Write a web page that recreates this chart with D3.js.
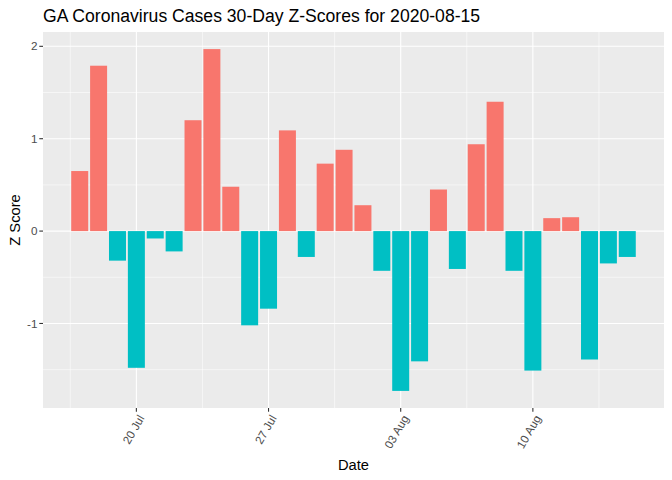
<!DOCTYPE html>
<html>
<head>
<meta charset="utf-8">
<script src="https://cdn.jsdelivr.net/npm/d3@7"></script>
<style>
  body { margin: 0; background: #fff; }
  text { font-family: "Liberation Sans", Arial, sans-serif; }
</style>
</head>
<body>
<div id="chart"></div>
<script>
/* data: one z-score per day, 17 Jul to 15 Aug 2020 */
const dates = ["2020-07-17", "2020-07-18", "2020-07-19", "2020-07-20", "2020-07-21", "2020-07-22",
               "2020-07-23", "2020-07-24", "2020-07-25", "2020-07-26", "2020-07-27", "2020-07-28",
               "2020-07-29", "2020-07-30", "2020-07-31", "2020-08-01", "2020-08-02", "2020-08-03",
               "2020-08-04", "2020-08-05", "2020-08-06", "2020-08-07", "2020-08-08", "2020-08-09",
               "2020-08-10", "2020-08-11", "2020-08-12", "2020-08-13", "2020-08-14", "2020-08-15"];
const zScores = [0.65, 1.79, -0.32, -1.48, -0.08, -0.22, 1.20, 1.97, 0.48, -1.02, -0.84, 1.09,
                 -0.28, 0.73, 0.88, 0.28, -0.43, -1.73, -1.41, 0.45, -0.41, 0.94, 1.40, -0.43,
                 -1.51, 0.14, 0.15, -1.39, -0.35, -0.28];
const xTicks = ["2020-07-20", "2020-07-27", "2020-08-03", "2020-08-10"];
const yTicks = [-1, 0, 1, 2];

const W = 672, H = 480;
const margin = { top: 32, right: 8, bottom: 72, left: 43 };
const pw = W - margin.left - margin.right,
      ph = H - margin.top - margin.bottom;

const parse = d3.utcParse("%Y-%m-%d");
const day = 864e5;
const data = dates.map((d, i) => ({ date: parse(d), z: zScores[i] }));

const svg = d3.select("#chart").append("svg")
    .attr("width", W).attr("height", H);

/* ggplot style 5% expansion on both scales */
const xMin = +data[0].date - 0.45 * day, xMax = +data[data.length - 1].date + 0.45 * day;
const xPad = (xMax - xMin) * 0.05;
const x = d3.scaleUtc().domain([xMin - xPad, xMax + xPad]).range([0, pw]);

const yMin = d3.min(zScores), yMax = d3.max(zScores);
const yPad = (yMax - yMin) * 0.05;
const y = d3.scaleLinear().domain([yMin - yPad, yMax + yPad]).range([ph, 0]);

const g = svg.append("g").attr("transform", `translate(${margin.left},${margin.top})`);

// panel background
g.append("rect").attr("width", pw).attr("height", ph).attr("fill", "#EBEBEB");

// minor grid
const xMajor = xTicks.map(parse);
const xMinor = [];
for (let i = -1; i < xMajor.length; i++) {
    const t = i < 0 ? +xMajor[0] - 3.5 * day : +xMajor[i] + 3.5 * day;
    if (x(t) >= 0 && x(t) <= pw) xMinor.push(t);
}
const yMinor = [-1.5, -0.5, 0.5, 1.5].filter(v => y(v) >= 0 && y(v) <= ph);

g.selectAll(".xminor").data(xMinor).enter().append("line")
    .attr("x1", d => x(d)).attr("x2", d => x(d)).attr("y1", 0).attr("y2", ph)
    .attr("stroke", "#fff").attr("stroke-width", 0.55);
g.selectAll(".yminor").data(yMinor).enter().append("line")
    .attr("y1", d => y(d)).attr("y2", d => y(d)).attr("x1", 0).attr("x2", pw)
    .attr("stroke", "#fff").attr("stroke-width", 0.55);

// major grid
g.selectAll(".xmajor").data(xMajor).enter().append("line")
    .attr("x1", d => x(d)).attr("x2", d => x(d)).attr("y1", 0).attr("y2", ph)
    .attr("stroke", "#fff").attr("stroke-width", 1.1);
g.selectAll(".ymajor").data(yTicks).enter().append("line")
    .attr("y1", d => y(d)).attr("y2", d => y(d)).attr("x1", 0).attr("x2", pw)
    .attr("stroke", "#fff").attr("stroke-width", 1.1);

// bars
const bw = x(+data[0].date + 0.45 * day) - x(+data[0].date - 0.45 * day);
g.selectAll(".bar").data(data).enter().append("rect")
    .attr("x", d => x(+d.date - 0.45 * day))
    .attr("width", bw)
    .attr("y", d => y(Math.max(0, d.z)))
    .attr("height", d => Math.abs(y(d.z) - y(0)))
    .attr("fill", d => d.z > 0 ? "#F8766D" : "#00BFC4");

// x axis
const fmt = d3.utcFormat("%d %b");
const xAxis = g.append("g").attr("transform", `translate(0,${ph})`);
xAxis.selectAll("line").data(xMajor).enter().append("line")
    .attr("x1", d => x(d)).attr("x2", d => x(d)).attr("y1", 0).attr("y2", 3.7)
    .attr("stroke", "#333").attr("stroke-width", 1.1);
xAxis.selectAll("text").data(xMajor).enter().append("text")
    .attr("transform", d => `translate(${x(d) + 5},${8}) rotate(-60)`)
    .attr("text-anchor", "end")
    .attr("dy", "0.35em")
    .attr("font-size", 11.7)
    .attr("fill", "#4D4D4D")
    .text(d => fmt(d));

// y axis
const yAxis = g.append("g");
yAxis.selectAll("line").data(yTicks).enter().append("line")
    .attr("y1", d => y(d)).attr("y2", d => y(d)).attr("x1", -3.7).attr("x2", 0)
    .attr("stroke", "#333").attr("stroke-width", 1.1);
yAxis.selectAll("text").data(yTicks).enter().append("text")
    .attr("x", -5.5).attr("y", d => y(d)).attr("dy", "0.35em")
    .attr("text-anchor", "end")
    .attr("font-size", 11.7)
    .attr("fill", "#4D4D4D")
    .text(d => d);

// titles
svg.append("text").attr("x", margin.left).attr("y", 22)
    .attr("font-size", 17.6).attr("fill", "#000")
    .text("GA Coronavirus Cases 30-Day Z-Scores for 2020-08-15");
svg.append("text").attr("x", margin.left + pw / 2).attr("y", 470)
    .attr("text-anchor", "middle").attr("font-size", 14.7).attr("fill", "#000")
    .text("Date");
svg.append("text")
    .attr("transform", `translate(20,${margin.top + ph / 2}) rotate(-90)`)
    .attr("text-anchor", "middle").attr("font-size", 14.7).attr("fill", "#000")
    .text("Z Score");
</script>
</body>
</html>
